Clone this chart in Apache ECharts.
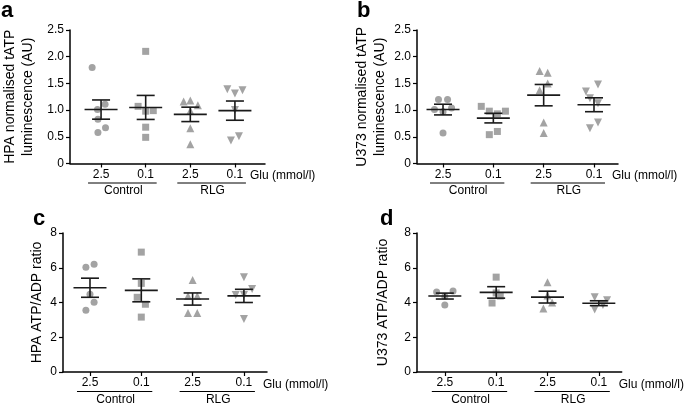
<!DOCTYPE html>
<html>
<head>
<meta charset="utf-8">
<script src="https://cdn.jsdelivr.net/npm/echarts@6/dist/echarts.min.js"></script>
<style>html,body{margin:0;padding:0;background:#fff}#c{width:685px;height:403px}</style>
</head>
<body>
<div id="c"></div>
<script>
// ---- data ----
const glucose = ['2.5', '0.1', '2.5', '0.1'];
const groups = ['Control', 'RLG'];
const xName = 'Glu (mmol/l)';

// panel a: HPA normalised tATP luminescence (AU)
const hpaTatp = [[1.80, 1.11, 1.01, 0.83, 0.67, 0.58], [2.10, 1.07, 0.98, 0.99, 0.68, 0.49], [1.16, 1.18, 1.09, 0.99, 0.66, 0.36], [1.39, 1.31, 1.37, 1.00, 0.43, 0.51]];
const hpaTatpMean = [1.01, 1.05, 0.92, 0.99];
const hpaTatpSem = [0.18, 0.225, 0.135, 0.18];
const hpaTatpJitter = [[-0.20, 0.09, -0.08, -0.07, 0.10, -0.07], [0, -0.17, 0, 0.17, 0, 0], [-0.15, 0, 0.17, 0, 0, 0], [-0.17, 0, 0.17, 0, -0.09, 0.09]];

// panel b: U373 normalised tATP luminescence (AU)
const u373Tatp = [[1.20, 1.20, 1.01, 1.04, 0.97, 0.57], [1.07, 0.98, 0.93, 0.98, 0.54, 0.60], [1.73, 1.70, 1.50, 1.37, 0.77, 0.57], [1.48, 1.35, 1.22, 1.13, 0.77, 0.66]];
const u373TatpMean = [1.01, 0.85, 1.28, 1.10];
const u373TatpSem = [0.10, 0.09, 0.20, 0.13];
const u373TatpJitter = [[-0.09, 0.09, -0.17, 0.17, 0, 0], [-0.24, -0.08, 0.08, 0.24, -0.08, 0.08], [-0.08, 0.08, 0.08, -0.08, 0, 0], [0.08, -0.16, -0.08, 0.08, 0.08, -0.08]];

// panel c: HPA ATP/ADP ratio
const hpaRatio = [[6.03, 6.20, 4.47, 4.02, 3.56], [6.90, 5.10, 4.30, 3.90, 3.16], [5.29, 4.37, 4.37, 3.39, 3.39], [5.46, 4.77, 4.43, 4.43, 3.05]];
const hpaRatioMean = [4.85, 4.70, 4.20, 4.38];
const hpaRatioSem = [0.55, 0.66, 0.35, 0.38];
const hpaRatioJitter = [[-0.08, 0.08, 0, 0.08, -0.08], [0, 0, -0.08, 0.08, 0], [0, -0.09, 0.09, -0.09, 0.09], [0, 0.16, -0.16, 0, 0]];

// panel d: U373 ATP/ADP ratio
const u373Ratio = [[4.60, 4.66, 4.35, 3.85], [5.46, 4.55, 4.37, 3.97], [5.17, 4.40, 4.00, 3.66], [4.30, 4.13, 3.85, 3.60]];
const u373RatioMean = [4.37, 4.58, 4.31, 3.96];
const u373RatioSem = [0.17, 0.33, 0.34, 0.14];
const u373RatioJitter = [[-0.16, 0.16, 0, 0], [0, 0, 0.08, -0.08], [0, 0, 0.09, -0.08], [-0.08, 0.16, 0.08, -0.08]];

// ---- chart ----
const FONT = "'Liberation Sans', Arial, Helvetica, sans-serif";
const GREY = '#a3a3a3';
const BAR = '#1a1a1a';
const symbols = ['circle', 'rect', 'triangle', 'triangle'];
const rotations = [0, 0, 0, 180];
const sizes = [7, 7, 8, 8];

const panels = [
  { letter: 'a', vals: hpaTatp, mean: hpaTatpMean, sem: hpaTatpSem, jit: hpaTatpJitter,
    yName: 'HPA normalised tATP\nluminescence (AU)', yMax: 2.5, yInt: 0.5, nameGap: 33,
    grid: { left: 64, right: 420, top: 30, bottom: 239.5 }, xMin: 0.304, xMax: 4.674, xNameGap: -15,
    lx: 1, ly: 0 },
  { letter: 'b', vals: u373Tatp, mean: u373TatpMean, sem: u373TatpSem, jit: u373TatpJitter,
    yName: 'U373 normalised tATP\nluminescence (AU)', yMax: 2.5, yInt: 0.5, nameGap: 28,
    grid: { left: 417, right: 67, top: 30, bottom: 239.5 }, xMin: 0.483, xMax: 4.477, xNameGap: -6,
    lx: 357, ly: 0 },
  { letter: 'c', vals: hpaRatio, mean: hpaRatioMean, sem: hpaRatioSem, jit: hpaRatioJitter,
    yName: 'HPA ATP/ADP ratio', yMax: 8, yInt: 2, nameGap: 14,
    grid: { left: 63, right: 418, top: 233, bottom: 31 }, xMin: 0.474, xMax: 4.45, xNameGap: -4,
    lx: 33, ly: 208 },
  { letter: 'd', vals: u373Ratio, mean: u373RatioMean, sem: u373RatioSem, jit: u373RatioJitter,
    yName: 'U373 ATP/ADP ratio', yMax: 8, yInt: 2, nameGap: 25,
    grid: { left: 417, right: 62, top: 233, bottom: 31 }, xMin: 0.458, xMax: 4.445, xNameGap: -3,
    lx: 380, ly: 208 }
];

function errRender(params, api) {
  const x = api.value(0), m = api.value(1), s = api.value(2);
  const c = api.coord([x, m]), t = api.coord([x, m + s]), b = api.coord([x, m - s]);
  const st = { stroke: BAR, lineWidth: 1.6 };
  return {
    type: 'group', children: [
      { type: 'line', shape: { x1: c[0] - 16.5, y1: c[1], x2: c[0] + 16.5, y2: c[1] }, style: st },
      { type: 'line', shape: { x1: c[0], y1: t[1], x2: c[0], y2: b[1] }, style: st },
      { type: 'line', shape: { x1: c[0] - 9, y1: t[1], x2: c[0] + 9, y2: t[1] }, style: st },
      { type: 'line', shape: { x1: c[0] - 9, y1: b[1], x2: c[0] + 9, y2: b[1] }, style: st }
    ]
  };
}

function grpRender(params, api) {
  const p1 = api.coord([api.value(0), 0]);
  const p2 = api.coord([api.value(2), 0]);
  const y = p1[1];
  return {
    type: 'group', children: [
      { type: 'line', shape: { x1: p1[0] - 13, y1: y + 19.5, x2: p2[0] + 11, y2: y + 19.5 }, style: { stroke: '#000', lineWidth: 1 } },
      { type: 'text', style: { text: groups[params.dataIndex], x: (p1[0] + p2[0]) / 2, y: y + 27.5, align: 'center', verticalAlign: 'middle', fontSize: 12, fontFamily: FONT, fill: '#000' } }
    ]
  };
}

const option = { animation: false, backgroundColor: '#fff', textStyle: { fontFamily: FONT },
  title: [], grid: [], xAxis: [], yAxis: [], series: [] };

panels.forEach((p, i) => {
  option.title.push({ text: p.letter, left: p.lx, top: p.ly, padding: 0,
    textStyle: { fontSize: 22, fontWeight: 'bold', color: '#000', fontFamily: FONT } });
  option.grid.push(Object.assign({ containLabel: false }, p.grid));
  option.xAxis.push({
    type: 'value', gridIndex: i, min: p.xMin, max: p.xMax,
    axisLine: { show: true, onZero: false, lineStyle: { color: '#000', width: 1.5 } },
    axisTick: { show: true, customValues: [1, 2, 3, 4], length: 4, lineStyle: { color: '#000', width: 1.2 } },
    axisLabel: { customValues: [1, 2, 3, 4], formatter: v => glucose[Math.round(v) - 1], margin: 5, fontSize: 12, color: '#000', fontFamily: FONT },
    splitLine: { show: false },
    name: '\n' + xName, nameLocation: 'end', nameGap: p.xNameGap,
    nameTextStyle: { fontSize: 12, lineHeight: 25, color: '#000', fontFamily: FONT }
  });
  option.yAxis.push({
    type: 'value', gridIndex: i, min: 0, max: p.yMax, interval: p.yInt,
    axisLine: { show: true, lineStyle: { color: '#000', width: 1.5 } },
    axisTick: { show: true, length: 4, lineStyle: { color: '#000', width: 1.2 } },
    axisLabel: { margin: 6, fontSize: 12, color: '#000', fontFamily: FONT,
      formatter: v => (p.yInt < 1 ? (v === 0 ? '0' : v.toFixed(1)) : String(v)) },
    splitLine: { show: false },
    name: p.yName, nameLocation: 'middle', nameGap: p.nameGap,
    nameTextStyle: { fontSize: 14, lineHeight: 18, color: '#000', fontFamily: FONT }
  });
  p.vals.forEach((arr, g) => {
    option.series.push({
      type: 'scatter', xAxisIndex: i, yAxisIndex: i, z: 2,
      symbol: symbols[g], symbolRotate: rotations[g], symbolSize: sizes[g],
      itemStyle: { color: GREY, opacity: 1 },
      data: arr.map((v, k) => [g + 1 + p.jit[g][k], v])
    });
  });
  option.series.push({
    type: 'custom', xAxisIndex: i, yAxisIndex: i, z: 3, renderItem: errRender,
    data: p.mean.map((m, g) => [g + 1, m, p.sem[g]])
  });
  option.series.push({
    type: 'custom', xAxisIndex: i, yAxisIndex: i, z: 3, renderItem: grpRender, clip: false,
    data: [[1, 0, 2], [3, 0, 4]]
  });
});

const chart = echarts.init(document.getElementById('c'), null, { renderer: 'canvas' });
chart.setOption(option);
</script>
</body>
</html>
